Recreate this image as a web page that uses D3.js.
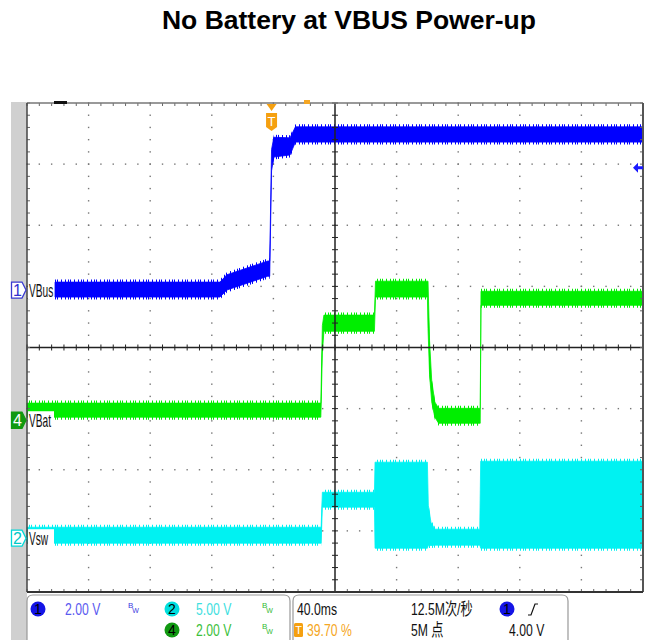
<!DOCTYPE html>
<html>
<head>
<meta charset="utf-8">
<script src="https://cdn.jsdelivr.net/npm/d3@7"></script>
<style>
  body { margin: 0; background: #fff; }
  text { font-family: "Liberation Sans", Arial, "Noto Sans CJK SC", sans-serif; }
</style>
</head>
<body>
<svg id="chart" width="646" height="640"></svg>
<script>
// time axis in ms, trigger at 0, 40 ms/div, trigger at 39.70 % of screen
var timeRange = [-158.8, 241.2];

// noise bands: [t (ms), low (V), high (V)]
var vbusBand = [
  [-140.6, -0.23, 0.26], [-33.5, -0.23, 0.26], [-29, 0.0, 0.5],
  [-2.5, 0.45, 0.95], [-1.2, 0.45, 0.95], [0.0, 3.9, 4.6],
  [1.5, 4.35, 5.0], [12.0, 4.42, 4.98], [15.5, 4.84, 5.34], [241.2, 4.84, 5.34]
];
var vbatBand = [
  [-158.8, 0.10, 0.56], [32.0, 0.10, 0.56], [33.0, 2.2, 3.1], [34.0, 2.91, 3.44],
  [66.8, 2.91, 3.44], [67.5, 4.03, 4.55], [101.2, 4.03, 4.55], [101.6, 3.0, 4.55],
  [102.6, 1.5, 2.6], [104.0, 0.6, 1.3], [106.0, 0.1, 0.6], [108.5, -0.1, 0.39],
  [135.5, -0.1, 0.39], [136.0, 3.76, 4.22], [241.2, 3.76, 4.22]
];
var vswBand = [
  [-158.8, -0.41, 0.90], [32.2, -0.41, 0.90], [33.0, 2.54, 3.76],
  [66.8, 2.54, 3.76], [67.2, -0.82, 6.22], [101.2, -0.82, 6.22],
  [101.8, -0.6, 2.7], [103.5, -0.6, 1.3], [106.0, -0.57, 0.74],
  [135.2, -0.57, 0.74], [135.8, -0.82, 6.30], [241.2, -0.82, 6.30]
];

// channel setup: 1 VBus, 2 Vsw, 4 VBat
var chIds = ["1", "2", "4"];
var chNames = ["VBus", "Vsw", "VBat"];
var chVoltsPerDiv = [2, 5, 2];
var chOffsetDiv = [0.94, -3.12, -1.19];
var chScaleText = ["2.00 V", "5.00 V", "2.00 V"];

var trigLevel = 4.0;
var trigLevelText = "4.00 V";
var timebaseText = "40.0ms";
var trigPosText = "39.70 %";
var rateText = "12.5M次/秒";
var depthText = "5M 点";

var svg = d3.select("#chart");
var pl = 27, pr = 643, pt = 103, pb = 592;

var x = d3.scaleLinear().domain(timeRange).range([pl, pr]);
var divX = d3.scaleLinear().domain([0, 10]).range([pl, pr]);
var divY = d3.scaleLinear().domain([-4, 4]).range([pb, pt]);

function chY(i) {
  var v = chVoltsPerDiv[i], o = chOffsetDiv[i];
  return d3.scaleLinear().domain([(-4 - o) * v, (4 - o) * v]).range([pb, pt]);
}

// narrow scope-style text
function label(g, tx, ty, str, color, size, sx, anchor) {
  return g.append("text")
    .attr("transform", "translate(" + tx + "," + ty + ") scale(" + sx + ",1)")
    .attr("text-anchor", anchor || "start")
    .style("font-size", size + "px")
    .style("fill", color)
    .text(str);
}

// title
svg.append("text")
  .attr("x", 349).attr("y", 29)
  .attr("text-anchor", "middle")
  .style("font-size", "26.5px").style("font-weight", "bold")
  .text("No Battery at VBUS Power-up");

// grey strip at the left of the screen
svg.append("rect").attr("x", 11).attr("y", 102).attr("width", 16).attr("height", 538).attr("fill", "#d0d0d0");

var plot = svg.append("g");
plot.append("rect").attr("x", pl).attr("y", pt).attr("width", pr - pl).attr("height", pb - pt).attr("fill", "#fff");

// dotted grid
var minorX = d3.range(0, 10.001, 0.2), minorY = d3.range(-4, 4.001, 0.2);
var grid = plot.append("g").attr("fill", "#777");
d3.range(1, 10).filter(function(d) { return d != 5; }).forEach(function(i) {
  grid.selectAll(null).data(minorY).enter().append("rect")
    .attr("x", divX(i) - 0.7).attr("y", function(d) { return divY(d) - 0.7; })
    .attr("width", 1.4).attr("height", 1.4);
});
d3.range(-3, 4).filter(function(d) { return d != 0; }).forEach(function(j) {
  grid.selectAll(null).data(minorX).enter().append("rect")
    .attr("x", function(d) { return divX(d) - 0.7; }).attr("y", divY(j) - 0.7)
    .attr("width", 1.4).attr("height", 1.4);
});

// traces; a striped halo just above and below each band mimics the noise fringe
var bands = [vbatBand, vswBand, vbusBand];
var bandCh = [2, 1, 0];
var bandColor = ["#00ee00", "#00f2f2", "#0000ff"];
var defs = svg.append("defs");
bandColor.forEach(function(c, k) {
  var p = defs.append("pattern").attr("id", "fringe" + k)
    .attr("patternUnits", "userSpaceOnUse").attr("width", 13).attr("height", 4);
  [0, 3, 5, 9].forEach(function(sx) {
    p.append("rect").attr("x", sx).attr("y", 0).attr("width", 1).attr("height", 4).attr("fill", c);
  });
});
bands.forEach(function(b, k) {
  var y = chY(bandCh[k]);
  var halo = d3.area()
    .x(function(d) { return x(d[0]); })
    .y0(function(d) { return y(d[1]) + 2.5; })
    .y1(function(d) { return y(d[2]) - 2.5; });
  var area = d3.area()
    .x(function(d) { return x(d[0]); })
    .y0(function(d) { return y(d[1]); })
    .y1(function(d) { return y(d[2]); });
  plot.append("path").datum(b).attr("d", halo).attr("fill", "url(#fringe" + k + ")");
  plot.append("path").datum(b).attr("d", area)
    .attr("fill", bandColor[k]).attr("stroke", bandColor[k]).attr("stroke-width", 0.8);
});

// centre axes with minor ticks
var axes = plot.append("g").attr("stroke", "#222").attr("stroke-width", 1);
axes.append("line").attr("x1", pl).attr("x2", pr).attr("y1", divY(0)).attr("y2", divY(0)).attr("stroke-width", 1.5);
axes.append("line").attr("x1", divX(5)).attr("x2", divX(5)).attr("y1", pt).attr("y2", pb).attr("stroke-width", 1.5);
axes.selectAll(null).data(minorX).enter().append("line")
  .attr("x1", function(d) { return divX(d); }).attr("x2", function(d) { return divX(d); })
  .attr("y1", divY(0) - 3).attr("y2", divY(0) + 3);
axes.selectAll(null).data(minorY).enter().append("line")
  .attr("y1", function(d) { return divY(d); }).attr("y2", function(d) { return divY(d); })
  .attr("x1", divX(5) - 3).attr("x2", divX(5) + 3);

// border ticks
var bt = plot.append("g").attr("stroke", "#666").attr("stroke-width", 1);
bt.selectAll(null).data(minorX).enter().append("line")
  .attr("x1", function(d) { return divX(d); }).attr("x2", function(d) { return divX(d); })
  .attr("y1", pt).attr("y2", pt + 3);
bt.selectAll(null).data(minorX).enter().append("line")
  .attr("x1", function(d) { return divX(d); }).attr("x2", function(d) { return divX(d); })
  .attr("y1", pb - 3).attr("y2", pb);
bt.selectAll(null).data(minorY).enter().append("line")
  .attr("y1", function(d) { return divY(d); }).attr("y2", function(d) { return divY(d); })
  .attr("x1", pl).attr("x2", pl + 3);
bt.selectAll(null).data(minorY).enter().append("line")
  .attr("y1", function(d) { return divY(d); }).attr("y2", function(d) { return divY(d); })
  .attr("x1", pr - 3).attr("x2", pr);

// frame
plot.append("line").attr("x1", pl).attr("x2", pr).attr("y1", pt).attr("y2", pt).attr("stroke", "#777").attr("stroke-width", 1.5);
plot.append("line").attr("x1", pl).attr("x2", pl).attr("y1", pt).attr("y2", pb).attr("stroke", "#444").attr("stroke-width", 1.5);
plot.append("line").attr("x1", pr).attr("x2", pr).attr("y1", pt).attr("y2", pb).attr("stroke", "#555").attr("stroke-width", 2);
plot.append("line").attr("x1", pl).attr("x2", pr).attr("y1", pb).attr("y2", pb).attr("stroke", "#333").attr("stroke-width", 2);

// top markers: horizontal position bar, trigger position
plot.append("rect").attr("x", 54).attr("y", 101).attr("width", 13).attr("height", 3).attr("fill", "#111");
plot.append("rect").attr("x", 304).attr("y", 100).attr("width", 6).attr("height", 4).attr("fill", "#f5a623");
var tx0 = x(0);
plot.append("path").attr("d", "M" + (tx0 - 5) + ",104 L" + (tx0 + 5) + ",104 L" + tx0 + ",111 Z").attr("fill", "#f5a010");
plot.append("path")
  .attr("d", "M" + (tx0 - 5.5) + ",113 h11 v14 l-5.5,4 l-5.5,-4 Z")
  .attr("fill", "#f5a010");
svg.append("text").attr("x", tx0).attr("y", 126).attr("text-anchor", "middle")
  .style("font-size", "13px").style("fill", "#fff").text("T");

// trigger level arrow on the right (ch1)
var tlY = chY(0)(trigLevel);
plot.append("path")
  .attr("d", "M" + (pr - 10) + "," + tlY + " l5,-5 v3.5 h5 v3 h-5 v3.5 Z")
  .attr("fill", "#1a1aff");

// channel ground markers and names
var markerFill = ["#fff", "#fff", "#119911"];
var markerStroke = ["#3a3ad0", "#00d8d8", "#119911"];
var markerText = ["#3030d0", "#00c8c8", "#fff"];
[0, 1, 2].forEach(function(i) {
  var cy = chY(i)(0);
  var g = svg.append("g");
  g.append("path")
    .attr("d", "M11.5," + (cy - 8) + " H22 L26," + cy + " L22," + (cy + 8) + " H11.5 Z")
    .attr("fill", markerFill[i]).attr("stroke", markerStroke[i]).attr("stroke-width", 1.3);
  g.append("text").attr("x", 17.5).attr("y", cy + 6).attr("text-anchor", "middle")
    .style("font-size", "16px").style("fill", markerText[i]).text(chIds[i]);
  g.append("rect").attr("x", 28).attr("y", cy - 9).attr("width", 26).attr("height", 18).attr("fill", "#fff");
  label(g, 29, cy + 6.5, chNames[i], "#111", 17.5, 0.58);
});

// status bar
var sb = svg.append("g");
sb.append("path").attr("d", "M27,645 V601 Q27,595 33,595 H284 Q290,595 290,601 V645")
  .attr("fill", "none").attr("stroke", "#999").attr("stroke-width", 1.2);
sb.append("path").attr("d", "M293,645 V601 Q293,595 299,595 H562 Q568,595 568,601 V645")
  .attr("fill", "none").attr("stroke", "#999").attr("stroke-width", 1.2);

var badgeFill = ["#1414e6", "#00dede", "#119911"];
var badgeX = [38, 172, 172], badgeY = [609, 609, 630];
var valX = [65, 196, 196];
var valColor = ["#5a5af0", "#3ee0e0", "#3cbf3c"];
var bwX = [128, 262, 262];
var bwColor = ["#3a3ae0", "#33bb33", "#33bb33"];
[0, 1, 2].forEach(function(i) {
  sb.append("circle").attr("cx", badgeX[i]).attr("cy", badgeY[i]).attr("r", 7.5).attr("fill", badgeFill[i]);
  sb.append("text").attr("x", badgeX[i]).attr("y", badgeY[i] + 5).attr("text-anchor", "middle")
    .style("font-size", "14px").style("fill", "#000").text(chIds[i]);
  label(sb, valX[i], badgeY[i] + 6, chScaleText[i], valColor[i], 16.5, 0.74);
  var bw = sb.append("text").attr("x", bwX[i]).attr("y", badgeY[i] - 1)
    .style("font-size", "8px").style("fill", bwColor[i]);
  bw.append("tspan").text("B");
  bw.append("tspan").attr("dx", -1).attr("dy", 5).style("font-size", "7px").text("W");
});

label(sb, 297, 615, timebaseText, "#111", 16.5, 0.74);
sb.append("rect").attr("x", 294).attr("y", 623).attr("width", 9).attr("height", 14).attr("rx", 1.5).attr("fill", "#f5a010");
sb.append("text").attr("x", 298.5).attr("y", 634).attr("text-anchor", "middle").style("font-size", "11px").style("fill", "#fff").text("T");
label(sb, 307, 636, trigPosText, "#f5a623", 16.5, 0.74);
label(sb, 411, 615, rateText, "#111", 16.5, 0.74);
label(sb, 411, 636, depthText, "#111", 16.5, 0.74);
sb.append("circle").attr("cx", 507).attr("cy", 609).attr("r", 7.5).attr("fill", "#1414e6");
sb.append("text").attr("x", 507).attr("y", 614).attr("text-anchor", "middle").style("font-size", "14px").style("fill", "#000").text("1");
sb.append("path").attr("d", "M528,615 h3 l4,-11 h3").attr("fill", "none").attr("stroke", "#111").attr("stroke-width", 1.2);
label(sb, 509, 636, trigLevelText, "#111", 16.5, 0.74);
</script>
</body>
</html>
